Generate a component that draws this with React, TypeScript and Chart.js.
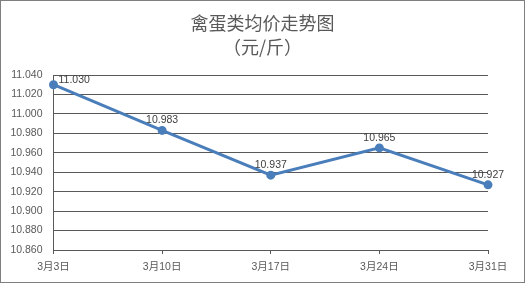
import React, { useEffect, useRef } from "react";
import { Chart, registerables } from "chart.js";

Chart.register(...registerables);

const categories = ["3月3日", "3月10日", "3月17日", "3月24日", "3月31日"];
const prices = [11.03, 10.983, 10.937, 10.965, 10.927];
const titleLines = ["禽蛋类均价走势图", "（元/斤）"];
const yMin = 10.86;
const yMax = 11.04;
const yStep = 0.02;

const LINE_COLOR = "#4A7EBB";
const TEXT_COLOR = "#595959";
const GRID_COLOR = "#595959";
const NUM_FONT = "'Liberation Sans', 'Noto Sans CJK SC', sans-serif";

const titlePlugin = {
  id: "customTitle",
  afterDraw(chart: any) {
    const ctx = chart.ctx;
    ctx.save();
    ctx.fillStyle = TEXT_COLOR;
    ctx.font = "18px 'Noto Sans CJK SC', sans-serif";
    ctx.textAlign = "center";
    ctx.textBaseline = "middle";
    const cx = chart.width / 2;
    ctx.fillText(titleLines[0], cx, 22);
    ctx.fillText(titleLines[1], cx, 46.5);
    ctx.restore();
  },
};

const labelPlugin = {
  id: "pointLabels",
  afterDatasetsDraw(chart: any) {
    const ctx = chart.ctx;
    const meta = chart.getDatasetMeta(0);
    const area = chart.chartArea;
    ctx.save();
    ctx.fillStyle = "#404040";
    ctx.font = "10.5px " + NUM_FONT;
    ctx.textBaseline = "middle";
    meta.data.forEach((pt: any, i: number) => {
      const text = prices[i].toFixed(3);
      const w = ctx.measureText(text).width;
      let x = pt.x - w / 2;
      let y = pt.y - 10;
      if (x < area.left) {
        x = pt.x + 5;
        y = Math.max(y, area.top + 5);
      }
      ctx.textAlign = "left";
      ctx.fillText(text, x, y);
    });
    ctx.restore();
  },
};

export default function App() {
  const ref = useRef<HTMLCanvasElement | null>(null);
  useEffect(() => {
    if (!ref.current) return;
    const chart = new Chart(ref.current, {
      type: "line",
      data: {
        labels: categories,
        datasets: [
          {
            data: prices,
            borderColor: LINE_COLOR,
            backgroundColor: LINE_COLOR,
            borderWidth: 3,
            pointRadius: 3,
            pointBackgroundColor: LINE_COLOR,
            pointBorderColor: LINE_COLOR,
            tension: 0,
            clip: false as any,
          },
        ],
      },
      options: {
        animation: false,
        responsive: false,
        maintainAspectRatio: false,
        layout: { padding: { left: 0, right: 36, top: 74, bottom: 0 } },
        plugins: {
          legend: { display: false },
          title: { display: false },
          tooltip: { enabled: false },
        },
        scales: {
          x: {
            type: "category",
            offset: false,
            grid: {
              display: true,
              drawOnChartArea: false,
              drawTicks: true,
              tickLength: 4,
              color: GRID_COLOR,
            },
            border: { display: true, color: GRID_COLOR, width: 1 },
            ticks: {
              color: TEXT_COLOR,
              font: { size: 10.5, family: NUM_FONT },
              padding: 7,
              maxRotation: 0,
              autoSkip: false,
            },
            afterFit(scale: any) {
              scale.height = 32;
            },
          },
          y: {
            min: yMin,
            max: yMax,
            grid: {
              color: GRID_COLOR,
              drawTicks: false,
              lineWidth: 1,
            },
            border: { display: true, color: GRID_COLOR, width: 1 },
            ticks: {
              stepSize: yStep,
              color: TEXT_COLOR,
              font: { size: 10.5, family: NUM_FONT },
              padding: 11,
              callback: (v: any) => Number(v).toFixed(3),
            },
            afterFit(scale: any) {
              scale.width = 52.5;
            },
          },
        },
      },
      plugins: [titlePlugin, labelPlugin],
    });
    return () => chart.destroy();
  }, []);

  return (
    <div
      style={{
        position: "absolute",
        left: 0,
        top: 0,
        width: 525,
        height: 283,
        boxSizing: "border-box",
        border: "1px solid #7f7f7f",
        background: "#ffffff",
      }}
    >
      <canvas ref={ref} width={523} height={281} style={{ display: "block" }} />
    </div>
  );
}
